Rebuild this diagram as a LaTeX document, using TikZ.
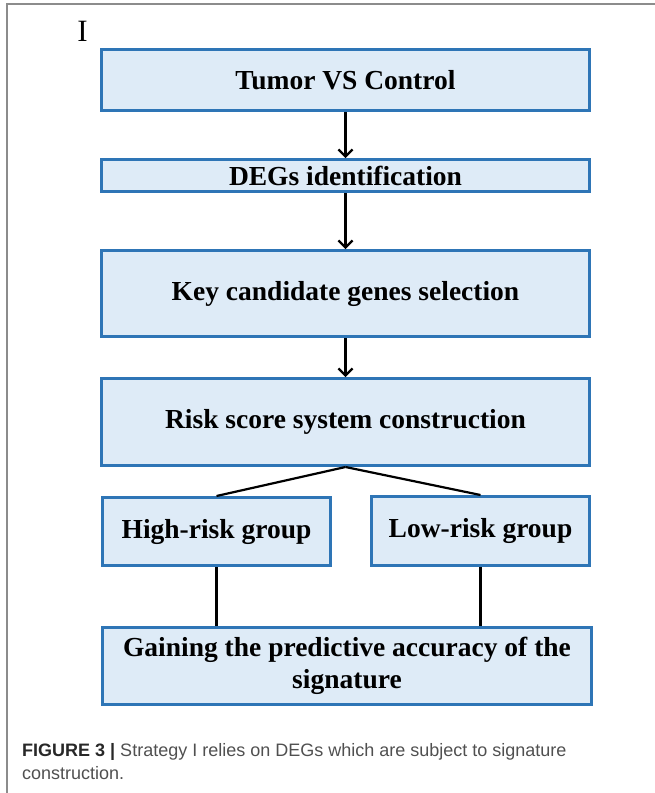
\documentclass[tikz,border=0pt]{standalone}
\usepackage{fontspec}
\setmainfont{Liberation Serif}
\newfontfamily\capfont{Liberation Sans}
\usetikzlibrary{arrows.meta}
\definecolor{boxblue}{RGB}{46, 117, 182}
\definecolor{boxfill}{RGB}{222, 235, 247}
\definecolor{framegray}{RGB}{140, 140, 140}
\definecolor{capgray}{RGB}{80, 80, 80}
\definecolor{capdark}{RGB}{40, 40, 40}

\begin{document}
\begin{tikzpicture}[x=1pt, y=-1pt,
  flowbox/.style={draw=boxblue, line width=3pt, fill=boxfill, inner sep=0pt,
    align=center, font=\fontsize{27.5}{32}\selectfont\bfseries},
  link/.style={line width=2.2pt, black},
  flow/.style={link, -{Straight Barb[length=7pt, width=14pt, line width=2.2pt]}}]
\useasboundingbox (0,0) rectangle (655,793);

% Frame of the figure
\draw[framegray, line width=1.5pt] (7,793) -- (7,4) -- (655,4);

% Panel label
\node[inner sep=0pt, font=\fontsize{31}{31}\selectfont] (panel) at (82.5,31.5) {I};

% Main steps
\node[flowbox, minimum width=488pt, minimum height=61pt] (tumor) at (345.5,80) {Tumor VS Control};
\node[flowbox, minimum width=488pt, minimum height=32pt] (degs) at (345.5,175.5) {DEGs identification};
\node[flowbox, minimum width=488pt, minimum height=86pt] (genes) at (345.5,293.5) {Key candidate genes selection};
\node[flowbox, minimum width=488pt, minimum height=87pt] (risk) at (345.5,422) {Risk score system construction};

% Risk groups
\node[flowbox, minimum width=228pt, minimum height=68pt] (high) at (216.5,531.5) {High-risk group};
\node[flowbox, minimum width=218pt, minimum height=69pt] (low) at (480.5,531) {Low-risk group};

% Final step
\node[flowbox, minimum width=489pt, minimum height=77pt] (gain) at (347,666)
  {Gaining the predictive accuracy of the\\signature};

% Arrows between the steps
\draw[flow] (tumor.south) -- (degs.north);
\draw[flow] (degs.south) -- (genes.north);
\draw[flow] (genes.south) -- (risk.north);

% Split and join lines
\draw[link] (risk.south) -- (high.north);
\draw[link] (risk.south) -- (low.north);
\draw[link] (high.south) -- (high.south |- gain.north);
\draw[link] (low.south) -- (low.south |- gain.north);

% Caption
\node[anchor=base west, inner sep=0pt, align=left, text=capgray,
  font=\capfont\fontsize{18}{23}\selectfont] (caption) at (22,779)
  {{\color{capdark}\bfseries FIGURE 3 |} Strategy I relies on DEGs which are subject to signature\\construction.};
\end{tikzpicture}
\end{document}
